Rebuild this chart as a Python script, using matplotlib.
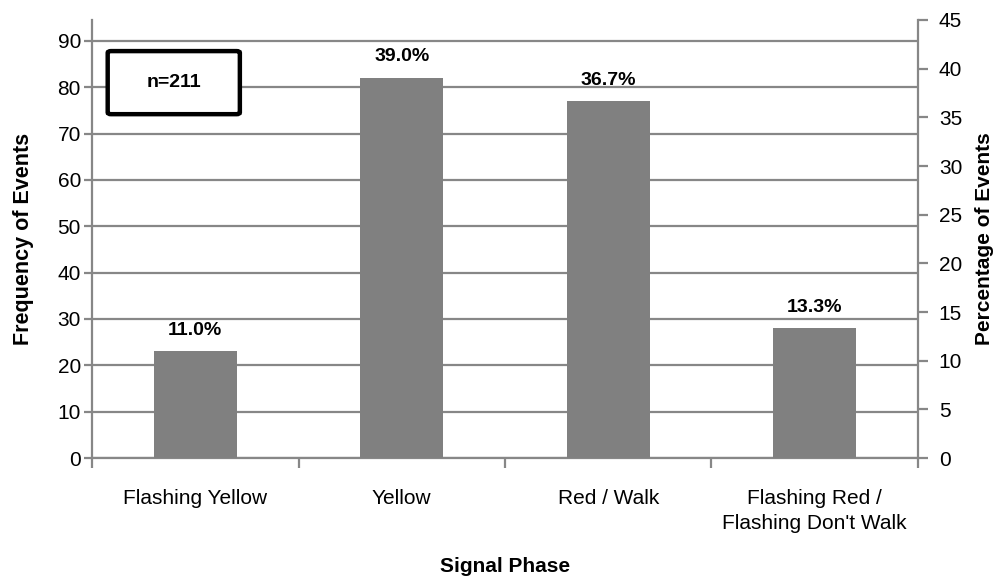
import matplotlib.pyplot as plt
from matplotlib.patches import FancyBboxPatch

plt.rcParams['font.family'] = ['Liberation Sans', 'DejaVu Sans']

# data
phases = ['Flashing Yellow', 'Yellow', 'Red / Walk', 'Flashing Red /\nFlashing Don\'t Walk']
counts = [23, 82, 77, 28]
pct_labels = ['11.0%', '39.0%', '36.7%', '13.3%']
n_total = 211

grey = '#878787'

fig = plt.figure(figsize=(10, 5.78), dpi=100)
ax = fig.add_axes([0.092, 0.2076, 0.826, 0.7578])

x = range(len(phases))
bars = ax.bar(x, counts, width=0.4, color='#808080', zorder=3)

ax.set_xlim(-0.5, len(phases) - 0.5)
ax.set_ylim(0, 94.5)
ax.set_yticks(range(0, 91, 10))
ax.yaxis.grid(True, color=grey, linewidth=1.6, zorder=0)
ax.set_axisbelow(True)

# category boundary ticks on x
ax.set_xticks([i - 0.5 for i in range(len(phases) + 1)])
ax.set_xticklabels([])
ax.set_xticks(list(x), minor=True)
ax.set_xticklabels(phases, minor=True, fontsize=15, linespacing=1.45)
ax.tick_params(axis='x', which='major', length=7, width=1.6, color=grey, direction='out')
ax.tick_params(axis='x', which='minor', length=0, pad=22)
ax.tick_params(axis='y', length=6, width=1.6, color=grey, labelsize=15, pad=2)

for side in ['top', 'right']:
    ax.spines[side].set_visible(False)
for side in ['left', 'bottom']:
    ax.spines[side].set_color(grey)
    ax.spines[side].set_linewidth(1.6)

ax.set_ylabel('Frequency of Events', fontsize=15.5, fontweight='bold', labelpad=17)
ax.set_xlabel('Signal Phase', fontsize=15, fontweight='bold', labelpad=17)

for b, lab in zip(bars, pct_labels):
    ax.annotate(lab, (b.get_x() + b.get_width() / 2, b.get_height()),
                xytext=(0, 9), textcoords='offset points',
                ha='center', va='bottom', fontsize=14, fontweight='bold')

# right axis: percentage
ax2 = ax.twinx()
ax2.set_ylim(0, 45)
ax2.set_yticks(range(0, 46, 5))
ax2.tick_params(axis='y', length=7, width=1.6, color=grey, labelsize=15, pad=8)
for side in ['top', 'left', 'bottom']:
    ax2.spines[side].set_visible(False)
ax2.spines['right'].set_color(grey)
ax2.spines['right'].set_linewidth(1.6)
ax2.set_ylabel('Percentage of Events', fontsize=15, fontweight='bold', labelpad=9)

# n box
ax.add_patch(FancyBboxPatch((0.019, 0.785), 0.16, 0.144, boxstyle='round,pad=0,rounding_size=0.004',
                            transform=ax.transAxes, facecolor='white', edgecolor='black',
                            linewidth=3.2, zorder=5))
ax.text(0.099, 0.857, 'n=%d' % n_total, transform=ax.transAxes, ha='center', va='center',
        fontsize=14, fontweight='bold', zorder=6)

fig.savefig('out.png', dpi=100)
